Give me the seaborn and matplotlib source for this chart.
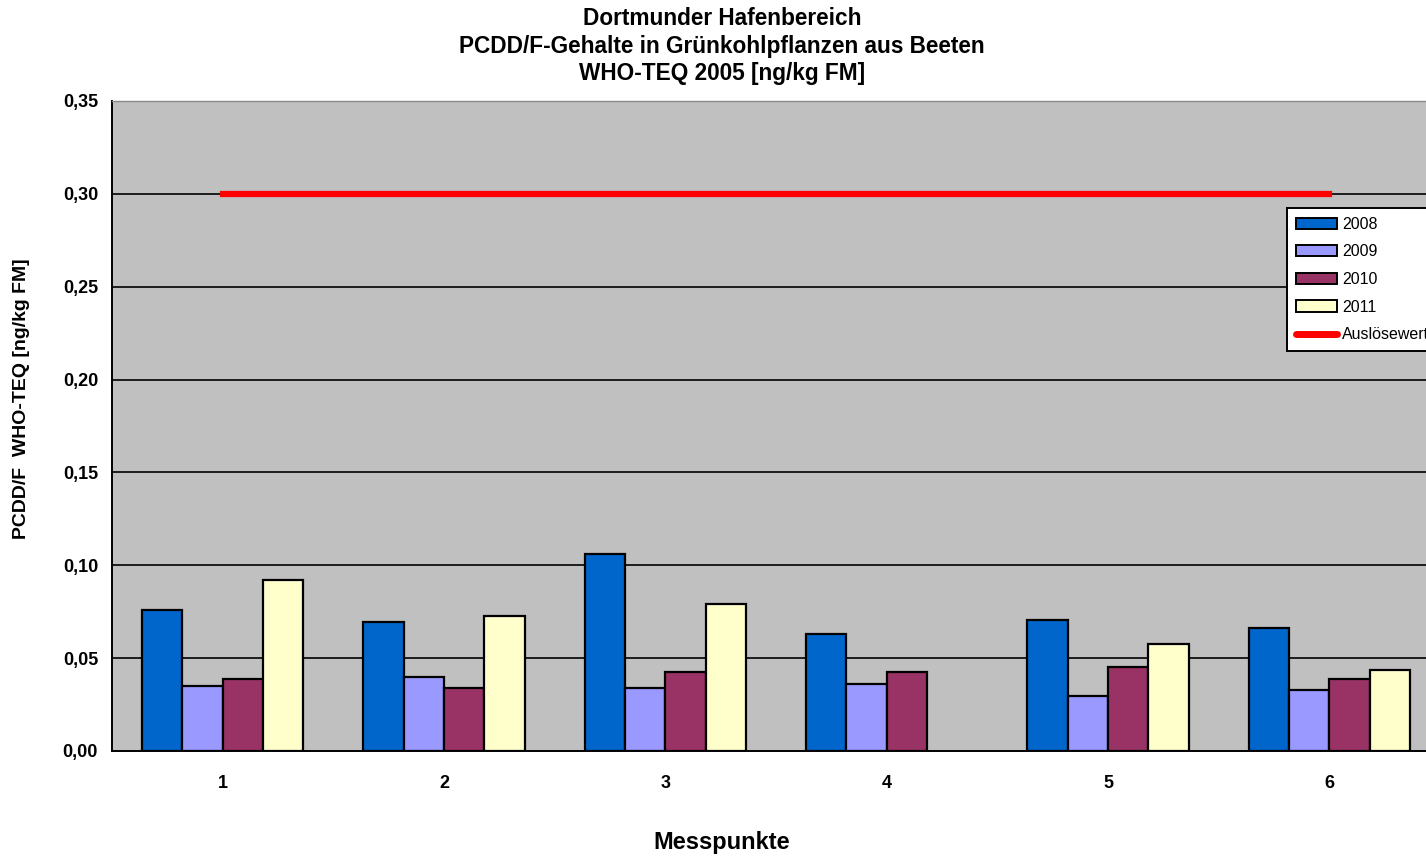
import numpy as np
import pandas as pd
import matplotlib
matplotlib.use("Agg")
import matplotlib.pyplot as plt
from matplotlib.ticker import FixedLocator, FuncFormatter
from matplotlib.patches import Patch
from matplotlib.lines import Line2D
import seaborn as sns

# Measuring points and yearly PCDD/F contents (WHO-TEQ 2005, ng/kg FM)
messpunkte = ["1", "2", "3", "4", "5", "6"]
years = ["2008", "2009", "2010", "2011"]
v2008 = [0.076, 0.0695, 0.106, 0.063, 0.0705, 0.066]
v2009 = [0.035, 0.040, 0.034, 0.036, 0.0295, 0.033]
v2010 = [0.039, 0.034, 0.0425, 0.0425, 0.0455, 0.039]
v2011 = [0.092, 0.0725, 0.079, np.nan, 0.0575, 0.0435]
ausloesewert = [0.30] * 6

colors = ["#0066CC", "#9999FF", "#993366", "#FFFFCC"]

rows = []
for year, vals in zip(years, [v2008, v2009, v2010, v2011]):
    for mp, v in zip(messpunkte, vals):
        rows.append({"Messpunkt": mp, "Jahr": year, "Wert": v})
df = pd.DataFrame(rows)

sns.set_style("white")
plt.rcParams["font.family"] = ["Liberation Sans", "DejaVu Sans"]
plt.rcParams["text.color"] = "black"
plt.rcParams["axes.labelcolor"] = "black"
plt.rcParams["xtick.color"] = "black"
plt.rcParams["ytick.color"] = "black"

fig = plt.figure(figsize=(14.26, 8.58), dpi=100)
ax = fig.add_axes([112 / 1426, 107 / 858, 1328 / 1426, 650 / 858])
ax.set_facecolor("#C0C0C0")

sns.barplot(data=df, x="Messpunkt", y="Wert", hue="Jahr", order=messpunkte,
            hue_order=years, palette=colors, width=0.73, errorbar=None,
            edgecolor="black", linewidth=1.6, saturation=1, ax=ax, zorder=3)

ax.plot(range(len(messpunkte)), ausloesewert, color="#FF0000", lw=4.5,
        solid_capstyle="projecting", zorder=4)

ax.set_xlim(-0.5, 5.5)
ax.set_ylim(0, 0.35)
ax.set_yticks(np.arange(0, 0.351, 0.05))
ax.yaxis.set_major_formatter(FuncFormatter(lambda v, p: f"{v:.2f}".replace(".", ",")))
for y in np.arange(0.05, 0.31, 0.05):
    ax.axhline(y, color="black", lw=1.2, zorder=1)

ax.xaxis.set_minor_locator(FixedLocator(np.arange(-0.5, 6, 1.0)))
ax.tick_params(axis="x", which="major", length=0, pad=17, labelsize=13)
ax.tick_params(axis="x", which="minor", length=6, width=1.2, direction="out", color="black")
ax.tick_params(axis="y", length=6, width=1.2, direction="out", color="black", labelsize=13, pad=4)
for lab in ax.get_xticklabels() + ax.get_yticklabels():
    lab.set_fontweight("bold")

for side in ["left", "bottom"]:
    ax.spines[side].set_color("black")
    ax.spines[side].set_linewidth(1.4)
ax.spines["top"].set_color("#8A8A8A")
ax.spines["top"].set_linewidth(1.0)
ax.spines["right"].set_visible(False)

ax.set_xlabel("")
ax.set_ylabel("")
fig.text(22 / 1426, 1 - 399 / 858, "PCDD/F  WHO-TEQ [ng/kg FM]", rotation=90,
         ha="center", va="center", fontsize=14, fontweight="bold")
fig.text(722 / 1426, 1 - 842 / 858, "Messpunkte", ha="center", va="center",
         fontsize=17, fontweight="bold")
fig.text(722 / 1426, 1 - 46 / 858,
         "Dortmunder Hafenbereich\nPCDD/F-Gehalte in Grünkohlpflanzen aus Beeten\nWHO-TEQ 2005 [ng/kg FM]",
         ha="center", va="center", fontsize=16.3, fontweight="bold", linespacing=1.25)

ax.get_legend().remove()
handles = [Patch(facecolor=c, edgecolor="black", linewidth=1.4) for c in colors]
handles.append(Line2D([0], [0], color="#FF0000", lw=5))
labels = years + ["Auslösewert"]
leg = fig.legend(handles, labels, loc="upper left",
                 bbox_to_anchor=(1287 / 1426, 1 - 208 / 858), frameon=True,
                 fancybox=False, framealpha=1, edgecolor="black", fontsize=11.5,
                 handlelength=2.6, handleheight=0.7, labelspacing=0.79,
                 handletextpad=0.3, borderpad=0.55, borderaxespad=0)
leg.get_frame().set_linewidth(1.4)

fig.savefig("out.png", dpi=100)
